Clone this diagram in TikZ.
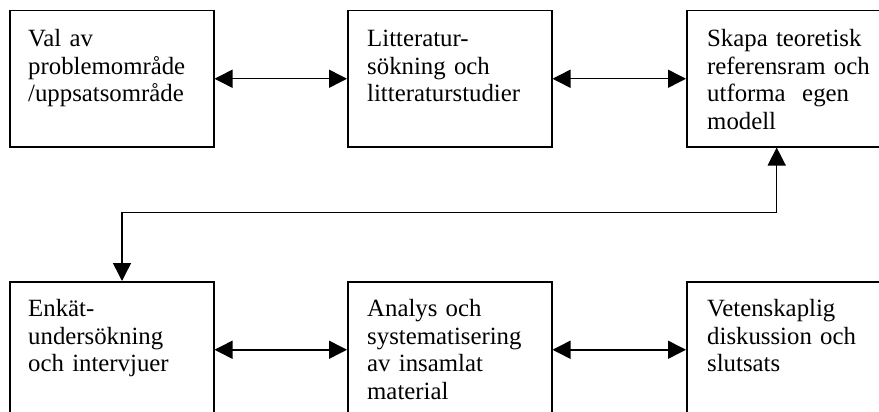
\documentclass[tikz,border=0pt]{standalone}
\usepackage{fontspec}
\setmainfont{Liberation Serif}
\usetikzlibrary{arrows.meta}

\begin{document}
\begin{tikzpicture}[x=1pt,y=-1pt,
    stepbox/.style={draw, line width=1.5pt, rectangle, inner sep=0pt,
      minimum width=204pt, minimum height=136pt, anchor=north west},
    boxtext/.style={anchor=base west, inner sep=0pt, align=left,
      text width=180pt, font=\fontsize{24.8}{27.6}\selectfont},
    link/.style={line width=1.5pt,
      {Triangle[length=18pt,width=18pt]}-{Triangle[length=18pt,width=18pt]}}]
  \useasboundingbox (0,0) rectangle (879,412);
  \clip (0,0) rectangle (879,412);

  % top row
  \node[stepbox] (b1) at (9,10) {};
  \node[stepbox] (b2) at (347,10) {};
  \node[stepbox] (b3) at (686,10) {};
  % bottom row
  \node[stepbox] (b4) at (9,281) {};
  \node[stepbox] (b5) at (347,281) {};
  \node[stepbox] (b6) at (686,281) {};

  % box texts
  \node[boxtext] (t1) at (28,46.7) {Val av\\problemområde\\/uppsatsområde};
  \node[boxtext] (t2) at (367,46.7) {Litteratur-\\sökning och\\litteraturstudier};
  \node[boxtext] (t3) at (707,46.7) {Skapa teoretisk\\referensram och\\utforma\ \ egen\\modell};
  \node[boxtext] (t4) at (28,316.7) {Enkät-\\undersökning\\och intervjuer};
  \node[boxtext] (t5) at (367,316.7) {Analys och\\systematisering\\av insamlat\\material};
  \node[boxtext] (t6) at (707,316.7) {Vetenskaplig\\diskussion och\\slutsats};

  % horizontal two-way connectors
  \draw[link] (b1.east) -- (b2.west);
  \draw[link] (b2.west -| b2.east) -- (b3.west);
  \draw[link] (b4.east) -- (b5.west);
  \draw[link] (b5.east) -- (b6.west);

  % elbow connector between the rows
  \coordinate (jl) at (122,212.7);
  \coordinate (jr) at (776.7,212.7);
  \draw[link] (b4.north -| jl) -- (jl) -- (jr) -- (b3.south -| jr);
\end{tikzpicture}
\end{document}
